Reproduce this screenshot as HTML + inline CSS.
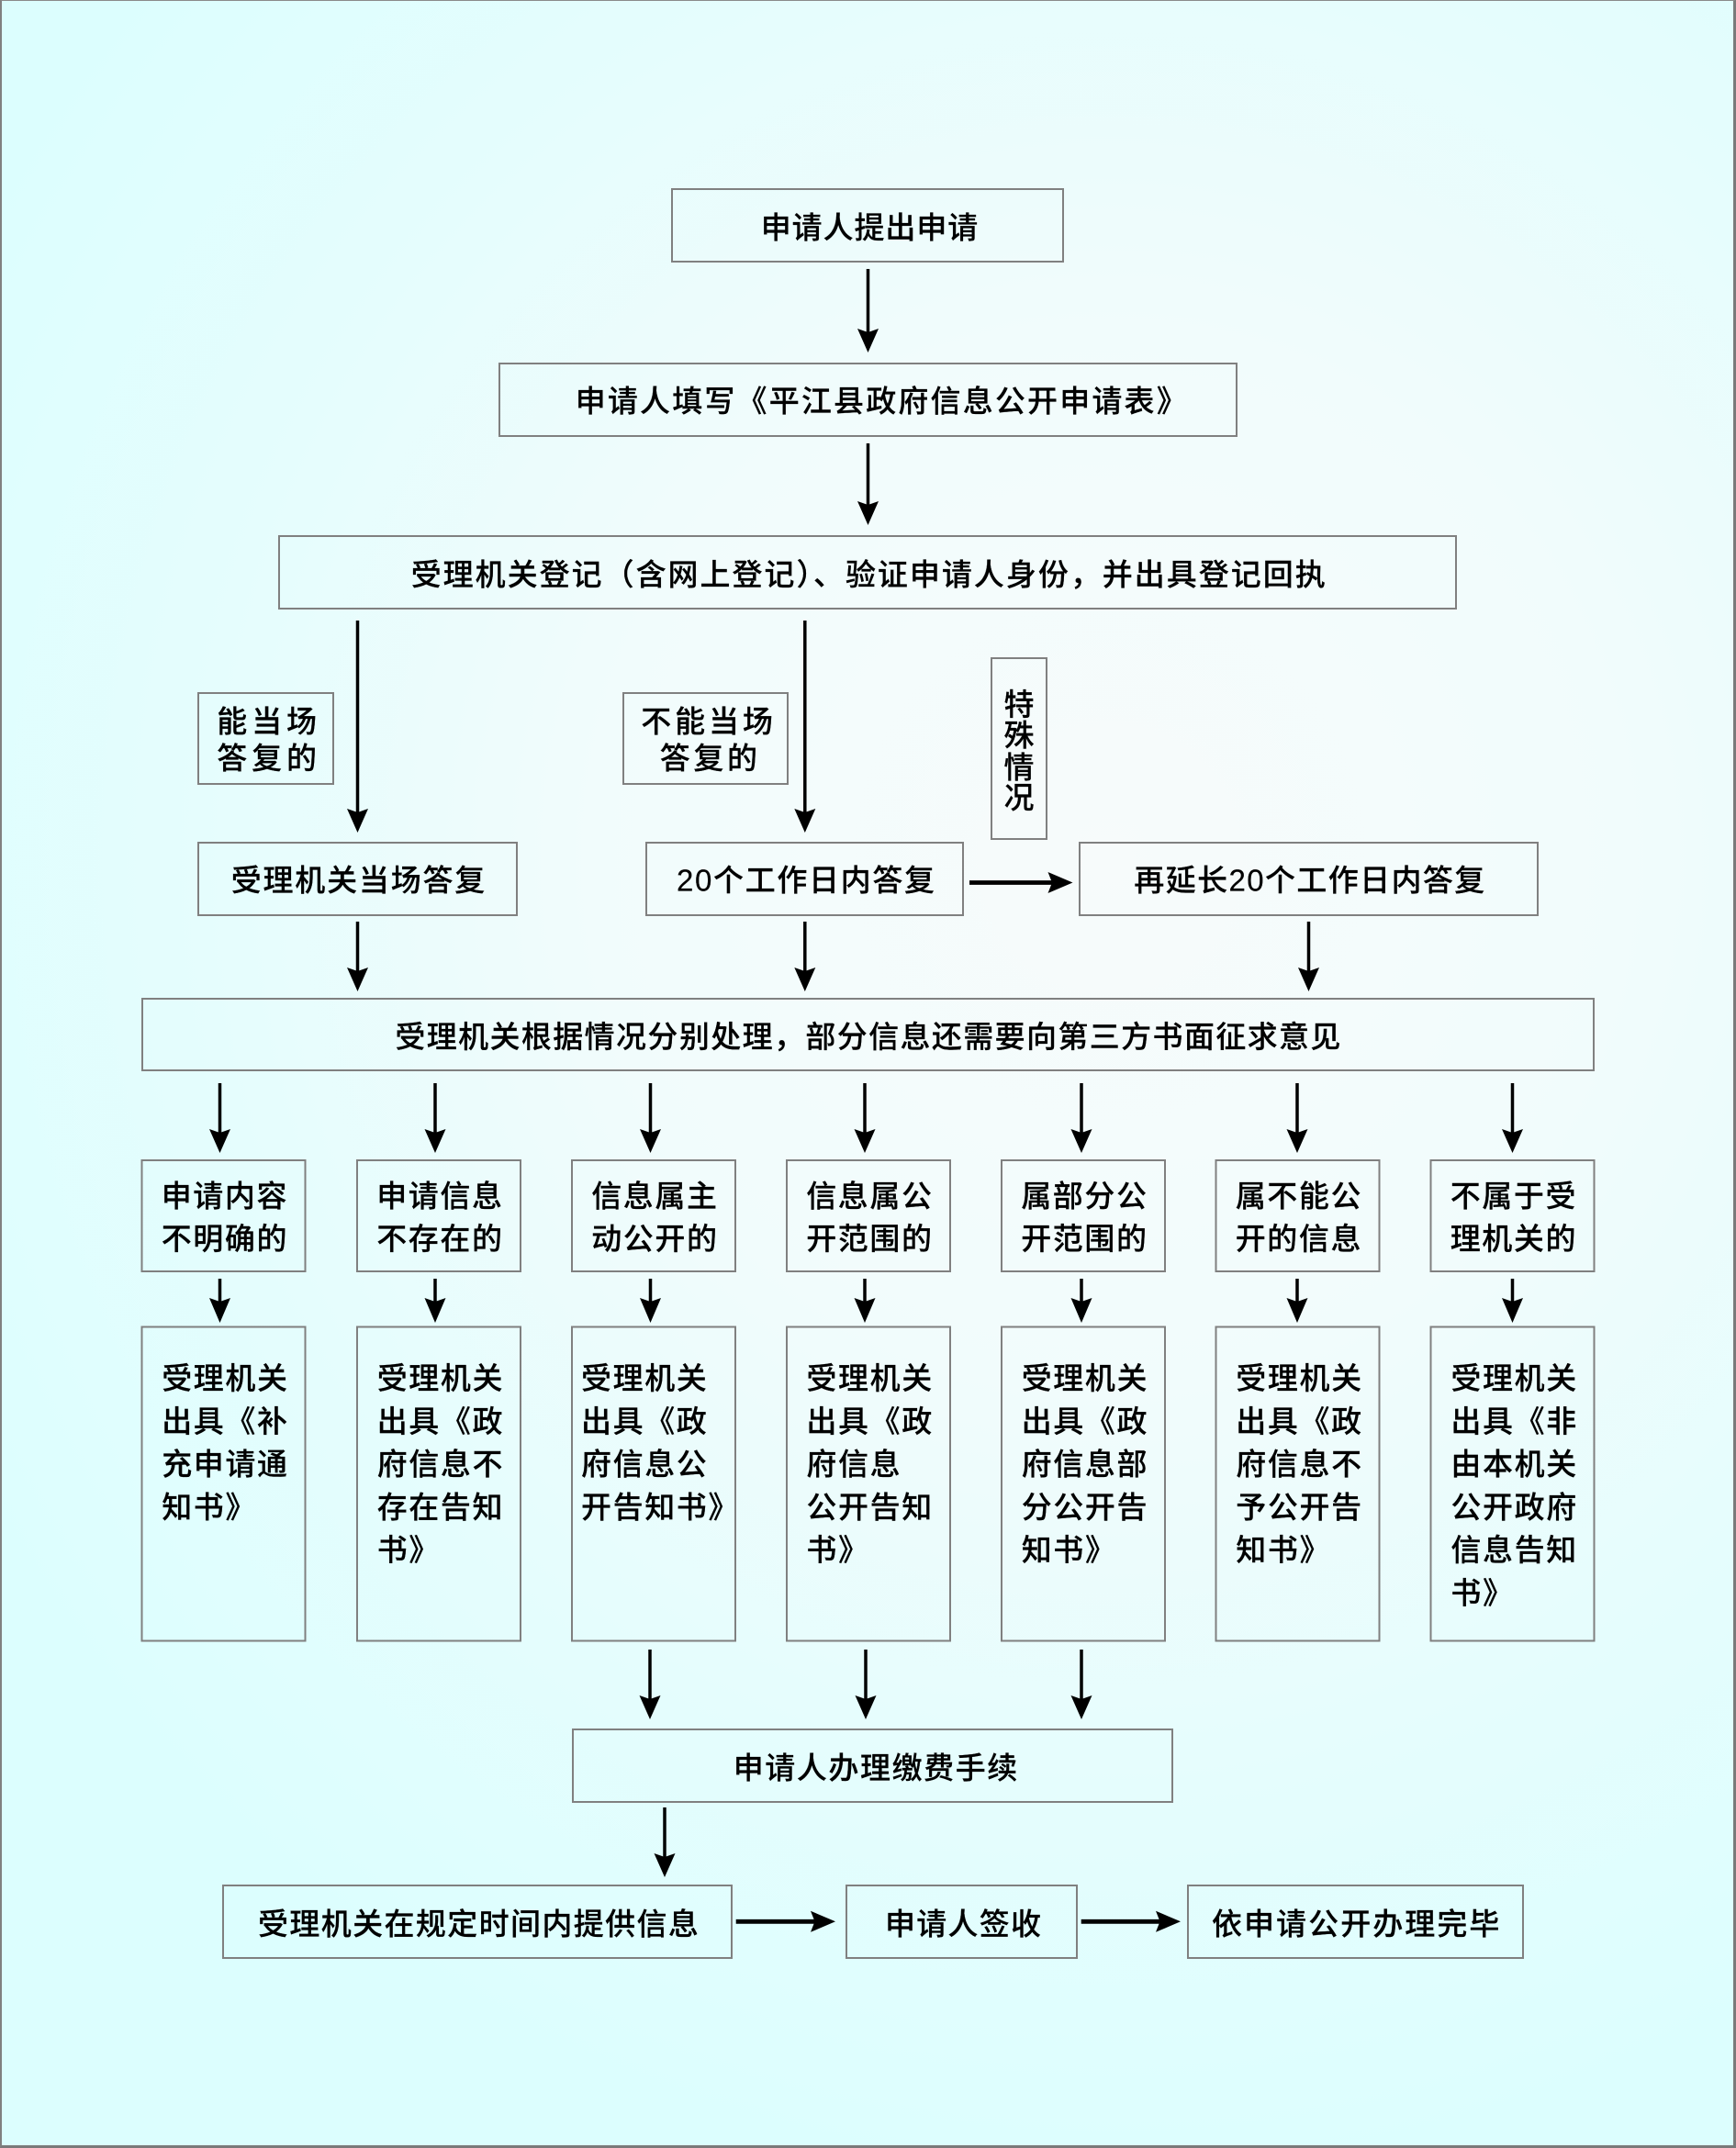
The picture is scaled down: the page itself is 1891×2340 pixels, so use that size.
<!DOCTYPE html>
<html>
<head>
<meta charset="utf-8">
<style>
  html,body{margin:0;padding:0;}
  body{width:1891px;height:2340px;overflow:hidden;}
  .page{position:absolute;left:0;top:0;width:1891px;height:2340px;box-sizing:border-box;
    border-left:2px solid #808080;border-top:1px solid #8a8a8a;border-right:3px solid #7a7a7a;border-bottom:3px solid #7a7a7a;
    background:radial-gradient(ellipse 75% 62% at 64% 40%, #f7fbfb 0%, #f1fcfc 40%, #e5fdfd 70%, #dcfefe 100%);}
  svg{position:absolute;left:0;top:0;}
  text{font-family:"Liberation Sans","Noto Sans CJK SC",sans-serif;font-size:33px;fill:#000;stroke:#000;stroke-width:0.2px;font-weight:500;}
  .c text{letter-spacing:1.6px;}
</style>
</head>
<body>
<div class="page"></div>
<svg width="1891" height="2340" viewBox="0 0 1891 2340" xmlns="http://www.w3.org/2000/svg">
  <g fill="none" stroke="#808080" stroke-width="2">
    <rect x="732" y="206" width="426" height="79"/>
    <rect x="544" y="396" width="803" height="79"/>
    <rect x="304" y="584" width="1282" height="79"/>
    <rect x="216" y="755" width="147" height="99"/>
    <rect x="679" y="755" width="179" height="99"/>
    <rect x="1080" y="717" width="60" height="197"/>
    <rect x="216" y="918" width="347" height="79"/>
    <rect x="704" y="918" width="345" height="79"/>
    <rect x="1176" y="918" width="499" height="79"/>
    <rect x="155" y="1088" width="1581" height="78"/>
    <!-- column top boxes -->
    <rect x="154.5" y="1264" width="178" height="121"/>
    <rect x="389" y="1264" width="178" height="121"/>
    <rect x="623" y="1264" width="178" height="121"/>
    <rect x="857" y="1264" width="178" height="121"/>
    <rect x="1091" y="1264" width="178" height="121"/>
    <rect x="1324.5" y="1264" width="178" height="121"/>
    <rect x="1558.5" y="1264" width="178" height="121"/>
    <!-- column tall boxes -->
    <rect x="154.5" y="1445.5" width="178" height="342"/>
    <rect x="389" y="1445.5" width="178" height="342"/>
    <rect x="623" y="1445.5" width="178" height="342"/>
    <rect x="857" y="1445.5" width="178" height="342"/>
    <rect x="1091" y="1445.5" width="178" height="342"/>
    <rect x="1324.5" y="1445.5" width="178" height="342"/>
    <rect x="1558.5" y="1445.5" width="178" height="342"/>
    <!-- bottom -->
    <rect x="624" y="1884" width="653" height="79"/>
    <rect x="243" y="2054" width="554" height="79"/>
    <rect x="922" y="2054" width="251" height="79"/>
    <rect x="1294" y="2054" width="365" height="79"/>
  </g>

  <!-- vertical arrows -->
  <g stroke="#000" stroke-width="3.5">
    <line x1="945.5" y1="293" x2="945.5" y2="364"/>
    <line x1="945.5" y1="483" x2="945.5" y2="552"/>
    <line x1="389.5" y1="676" x2="389.5" y2="887"/>
    <line x1="876.8" y1="676" x2="876.8" y2="887"/>
    <line x1="389.5" y1="1004" x2="389.5" y2="1060"/>
    <line x1="876.8" y1="1004" x2="876.8" y2="1060"/>
    <line x1="1425.5" y1="1004" x2="1425.5" y2="1060"/>
    <line x1="239.5" y1="1180" x2="239.5" y2="1236"/>
    <line x1="474" y1="1180" x2="474" y2="1236"/>
    <line x1="708.5" y1="1180" x2="708.5" y2="1236"/>
    <line x1="942" y1="1180" x2="942" y2="1236"/>
    <line x1="1178" y1="1180" x2="1178" y2="1236"/>
    <line x1="1413" y1="1180" x2="1413" y2="1236"/>
    <line x1="1647.5" y1="1180" x2="1647.5" y2="1236"/>
    <line x1="239.5" y1="1393" x2="239.5" y2="1421"/>
    <line x1="474" y1="1393" x2="474" y2="1421"/>
    <line x1="708.5" y1="1393" x2="708.5" y2="1421"/>
    <line x1="942" y1="1393" x2="942" y2="1421"/>
    <line x1="1178" y1="1393" x2="1178" y2="1421"/>
    <line x1="1413" y1="1393" x2="1413" y2="1421"/>
    <line x1="1647.5" y1="1393" x2="1647.5" y2="1421"/>
    <line x1="708" y1="1797" x2="708" y2="1853"/>
    <line x1="943" y1="1797" x2="943" y2="1853"/>
    <line x1="1178" y1="1797" x2="1178" y2="1853"/>
    <line x1="724" y1="1969" x2="724" y2="2025"/>
  </g>
  <g fill="#000">
    <path d="M934 358 L945.5 362 L957 358 L945.5 384 Z"/>
    <path d="M934 546 L945.5 550 L957 546 L945.5 572 Z"/>
    <path d="M378 881 L389.5 885 L401 881 L389.5 907 Z"/>
    <path d="M865.3 881 L876.8 885 L888.3 881 L876.8 907 Z"/>
    <path d="M378 1054 L389.5 1058 L401 1054 L389.5 1080 Z"/>
    <path d="M865.3 1054 L876.8 1058 L888.3 1054 L876.8 1080 Z"/>
    <path d="M1414 1054 L1425.5 1058 L1437 1054 L1425.5 1080 Z"/>
    <path d="M228 1230 L239.5 1234 L251 1230 L239.5 1256 Z"/>
    <path d="M462.5 1230 L474 1234 L485.5 1230 L474 1256 Z"/>
    <path d="M697 1230 L708.5 1234 L720 1230 L708.5 1256 Z"/>
    <path d="M930.5 1230 L942 1234 L953.5 1230 L942 1256 Z"/>
    <path d="M1166.5 1230 L1178 1234 L1189.5 1230 L1178 1256 Z"/>
    <path d="M1401.5 1230 L1413 1234 L1424.5 1230 L1413 1256 Z"/>
    <path d="M1636 1230 L1647.5 1234 L1659 1230 L1647.5 1256 Z"/>
    <path d="M228 1414 L239.5 1418 L251 1414 L239.5 1441 Z"/>
    <path d="M462.5 1414 L474 1418 L485.5 1414 L474 1441 Z"/>
    <path d="M697 1414 L708.5 1418 L720 1414 L708.5 1441 Z"/>
    <path d="M930.5 1414 L942 1418 L953.5 1414 L942 1441 Z"/>
    <path d="M1166.5 1414 L1178 1418 L1189.5 1414 L1178 1441 Z"/>
    <path d="M1401.5 1414 L1413 1418 L1424.5 1414 L1413 1441 Z"/>
    <path d="M1636 1414 L1647.5 1418 L1659 1414 L1647.5 1441 Z"/>
    <path d="M696.5 1847 L708 1851 L719.5 1847 L708 1873 Z"/>
    <path d="M931.5 1847 L943 1851 L954.5 1847 L943 1873 Z"/>
    <path d="M1166.5 1847 L1178 1851 L1189.5 1847 L1178 1873 Z"/>
    <path d="M712.5 2019 L724 2023 L735.5 2019 L724 2045 Z"/>
    <!-- horizontal heads -->
    <path d="M1141.5 950 L1146 961.5 L1141.5 973 L1168.5 961.5 Z"/>
    <path d="M883 2081.8 L887.5 2093.3 L883 2104.8 L910 2093.3 Z"/>
    <path d="M1259 2081.8 L1263.5 2093.3 L1259 2104.8 L1286 2093.3 Z"/>
  </g>
  <g stroke="#000" stroke-width="4.8">
    <line x1="1056" y1="961.5" x2="1146" y2="961.5"/>
    <line x1="801.7" y1="2093.3" x2="888" y2="2093.3"/>
    <line x1="1177.7" y1="2093.3" x2="1264" y2="2093.3"/>
  </g>

  <!-- single-line texts -->
  <text x="828.7" y="259.4" textLength="236.6" lengthAdjust="spacing">申请人提出申请</text>
  <text x="626.7" y="448.4" textLength="666" lengthAdjust="spacing">申请人填写《平江县政府信息公开申请表》</text>
  <text x="447.7" y="637.4" textLength="996" lengthAdjust="spacing">受理机关登记（含网上登记）、验证申请人身份，并出具登记回执</text>

  <text x="236.3" y="797.4" textLength="108.7" lengthAdjust="spacing">能当场</text>
  <text x="236.3" y="837.4" textLength="108.7" lengthAdjust="spacing">答复的</text>
  <text x="698.2" y="797.4" textLength="143.7" lengthAdjust="spacing">不能当场</text>
  <text x="718.7" y="837.4" textLength="106.3" lengthAdjust="spacing">答复的</text>

  <text x="1093.5" y="779">特</text>
  <text x="1093.5" y="812.4">殊</text>
  <text x="1093.5" y="847.4">情</text>
  <text x="1093.5" y="880.4">况</text>

  <text x="251.7" y="970.4" textLength="276.6" lengthAdjust="spacing">受理机关当场答复</text>
  <text x="737" y="970.4" textLength="281" lengthAdjust="spacing">20个工作日内答复</text>
  <text x="1235.3" y="970.4" textLength="382" lengthAdjust="spacing">再延长20个工作日内答复</text>

  <text x="430.4" y="1140.9" textLength="1030" lengthAdjust="spacing">受理机关根据情况分别处理，部分信息还需要向第三方书面征求意见</text>

  <!-- column texts -->
  <g class="c">
    <text x="175.7" y="1314.4">申请内容</text>
    <text x="175.7" y="1360.9">不明确的</text>
    <text x="410.2" y="1314.4">申请信息</text>
    <text x="410.2" y="1360.9">不存在的</text>
    <text x="644.2" y="1314.4">信息属主</text>
    <text x="644.2" y="1360.9">动公开的</text>
    <text x="878.2" y="1314.4">信息属公</text>
    <text x="878.2" y="1360.9">开范围的</text>
    <text x="1112.2" y="1314.4">属部分公</text>
    <text x="1112.2" y="1360.9">开范围的</text>
    <text x="1345.7" y="1314.4">属不能公</text>
    <text x="1345.7" y="1360.9">开的信息</text>
    <text x="1579.7" y="1314.4">不属于受</text>
    <text x="1579.7" y="1360.9">理机关的</text>

    <text x="176.2" y="1513">受理机关</text>
    <text x="176.2" y="1559.8">出具《补</text>
    <text x="176.2" y="1606.6">充申请通</text>
    <text x="176.2" y="1653.4">知书》</text>

    <text x="410.7" y="1513">受理机关</text>
    <text x="410.7" y="1559.8">出具《政</text>
    <text x="410.7" y="1606.6">府信息不</text>
    <text x="410.7" y="1653.4">存在告知</text>
    <text x="410.7" y="1700.2">书》</text>

    <text x="633" y="1513">受理机关</text>
    <text x="633" y="1559.8">出具《政</text>
    <text x="633" y="1606.6">府信息公</text>
    <text x="633" y="1653.4">开告知书》</text>

    <text x="878.4" y="1513">受理机关</text>
    <text x="878.4" y="1559.8">出具《政</text>
    <text x="878.4" y="1606.6">府信息</text>
    <text x="878.4" y="1653.4">公开告知</text>
    <text x="878.4" y="1700.2">书》</text>

    <text x="1112.7" y="1513">受理机关</text>
    <text x="1112.7" y="1559.8">出具《政</text>
    <text x="1112.7" y="1606.6">府信息部</text>
    <text x="1112.7" y="1653.4">分公开告</text>
    <text x="1112.7" y="1700.2">知书》</text>

    <text x="1346.3" y="1513">受理机关</text>
    <text x="1346.3" y="1559.8">出具《政</text>
    <text x="1346.3" y="1606.6">府信息不</text>
    <text x="1346.3" y="1653.4">予公开告</text>
    <text x="1346.3" y="1700.2">知书》</text>

    <text x="1580.4" y="1513">受理机关</text>
    <text x="1580.4" y="1559.8">出具《非</text>
    <text x="1580.4" y="1606.6">由本机关</text>
    <text x="1580.4" y="1653.4">公开政府</text>
    <text x="1580.4" y="1700.2">信息告知</text>
    <text x="1580.4" y="1747">书》</text>
  </g>

  <text x="798.7" y="1937.4" textLength="309.6" lengthAdjust="spacing">申请人办理缴费手续</text>
  <text x="281" y="2107.4" textLength="479.9" lengthAdjust="spacing">受理机关在规定时间内提供信息</text>
  <text x="964" y="2107.4" textLength="170" lengthAdjust="spacing">申请人签收</text>
  <text x="1320" y="2107.4" textLength="313.4" lengthAdjust="spacing">依申请公开办理完毕</text>
</svg>
</body>
</html>
